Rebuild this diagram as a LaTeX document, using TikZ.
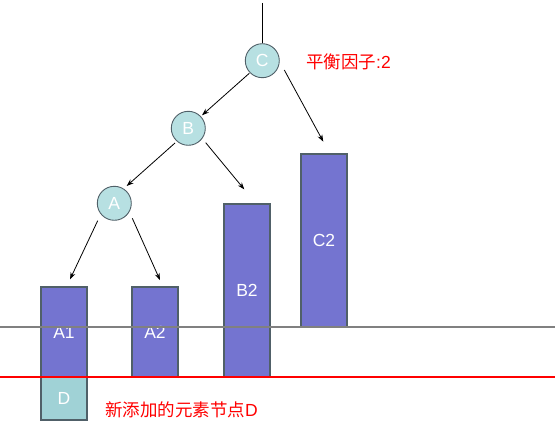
\documentclass[tikz,border=0pt]{standalone}
\usepackage{fontspec}
\setmainfont{Liberation Sans}
\newfontfamily\cjk{Noto Sans CJK SC}
\usetikzlibrary{arrows.meta,calc}
\definecolor{rectfill}{RGB}{116,116,208}
\definecolor{circfill}{RGB}{183,224,226}
\definecolor{dfill}{RGB}{160,210,214}
\definecolor{bordergray}{RGB}{80,96,104}
\definecolor{linegray}{RGB}{128,128,128}
\begin{document}
\begin{tikzpicture}[x=1pt,y=-1pt,
  treenode/.style={circle,draw=bordergray,line width=0.9pt,fill=circfill,minimum size=34pt,inner sep=0pt,text=white,font=\fontsize{17.5}{20}\selectfont},
  subtree/.style={rectangle,draw=bordergray,line width=1.2pt,fill=rectfill,minimum width=46pt,inner sep=0pt,text=white,font=\fontsize{17.5}{20}\selectfont},
  newnode/.style={rectangle,draw=bordergray,line width=1.2pt,fill=dfill,minimum width=46pt,inner sep=0pt,text=white,font=\fontsize{17.5}{20}\selectfont},
  arr/.style={-{Stealth[length=7pt,width=5pt]},line width=0.8pt,black},
  note/.style={anchor=west,text=red,inner sep=0pt,font=\fontsize{17.5}{20}\selectfont}]
\useasboundingbox (0,0) rectangle (555,435);
% nodes
\node[treenode] (C) at (262.3,60.7) {C};
\node[treenode] (B) at (188.3,128.3) {B};
\node[treenode] (A) at (114.3,203.3) {A};
\node[subtree,minimum height=90pt] (A1) at (64,332) {A1};
\node[subtree,minimum height=90pt] (A2) at (155,332) {A2};
\node[subtree,minimum height=173pt] (B2) at (247,290.5) {B2};
\node[subtree,minimum height=173pt] (C2) at (324,240.5) {C2};
\node[newnode,minimum height=43pt] (D) at (64,398.5) {D};
\node[note] (bf) at (306,61.5) {{\cjk 平衡因子}:2};
\node[note] (newlbl) at (105,409.5) {{\cjk 新添加的元素节点}D};
% top line
\coordinate (top) at (262.3,3);
\draw[line width=0.8pt,black] (top) -- (C.north);
% connectors
\draw[arr] ($(C)+(-13,12.6)$) -- ($(B)+(13.7,-13)$);
\draw[arr] ($(C)+(22,9.3)$) -- ($(C2.north)+(-0.7,-11.7)$);
\draw[arr] ($(B)+(-13.3,14.7)$) -- ($(A)+(12.4,-17.3)$);
\draw[arr] ($(B)+(17.4,14.4)$) -- ($(B2.north)+(-2.7,-14)$);
\draw[arr] ($(A)+(-16.6,17.4)$) -- ($(A1.north)+(6,-7)$);
\draw[arr] ($(A)+(18,15)$) -- ($(A2.north)+(5,-6.3)$);
% horizontal lines
\coordinate (gl) at (0,327);
\coordinate (gr) at (555,327);
\coordinate (rl) at (0,377);
\coordinate (rr) at (555,377);
\draw[linegray,line width=1.6pt] (gl) -- (gr);
\draw[red,line width=1.6pt] (rl) -- (rr);
\end{tikzpicture}
\end{document}
